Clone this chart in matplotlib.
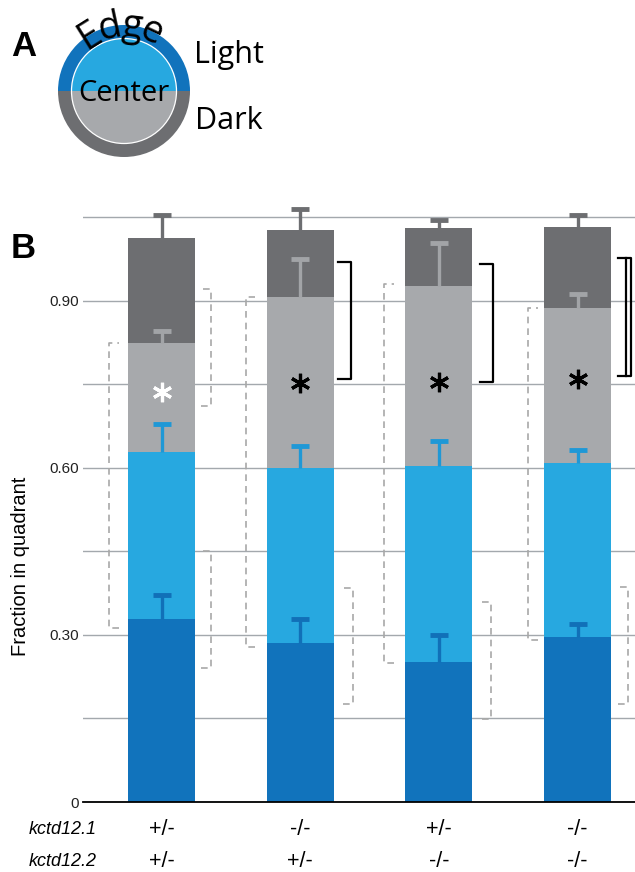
import numpy as np
import matplotlib
matplotlib.use('Agg')
import matplotlib.pyplot as plt
from matplotlib.patches import Wedge, Circle
import matplotlib.transforms as mtransforms

# ---------------- data ----------------
genotype_1 = ['+/-', '-/-', '+/-', '-/-']
genotype_2 = ['+/-', '+/-', '-/-', '-/-']
gene_names = ['kctd12.1', 'kctd12.2']

# stacked segments (bottom -> top)
edge_light   = [0.329, 0.286, 0.251, 0.296]
center_light = [0.300, 0.314, 0.353, 0.313]
center_dark  = [0.195, 0.307, 0.323, 0.278]
edge_dark    = [0.189, 0.120, 0.104, 0.146]

# upper error (SEM) for each segment
err_edge_light   = [0.043, 0.043, 0.049, 0.024]
err_center_light = [0.050, 0.040, 0.044, 0.023]
err_center_dark  = [0.022, 0.068, 0.077, 0.025]
err_edge_dark    = [0.041, 0.038, 0.014, 0.021]

# significance asterisks
star_y = [0.737, 0.753, 0.754, 0.760]
star_color = ['white', 'black', 'black', 'black']

# dashed comparison brackets
center_br_lo = [0.313, 0.279, 0.250, 0.291]
center_br_hi = [0.824, 0.907, 0.930, 0.887]
edge_br_lo = [0.241, 0.176, 0.149, 0.176]
edge_br_hi = [0.451, 0.384, 0.359, 0.386]
extra_br = (0.711, 0.921)          # bar 1, right upper dashed bracket
# solid brackets for bars 2-4
solid_br_lo = [0.760, 0.754, 0.765]
solid_br_hi = [0.970, 0.966, 0.977]

yticks = [0, 0.30, 0.60, 0.90]
yticklabels = ['0', '0.30', '0.60', '0.90']
minor_ticks = [0.15, 0.45, 0.75, 1.05]

# ---------------- style ----------------
C_EL = '#1173bc'
C_CL = '#27a8e0'
C_CD = '#a7a9ac'
C_ED = '#6d6e71'
GRID = '#a3a8ad'
DASH = '#a8a8a8'

W, H = 635, 872
fig = plt.figure(figsize=(W / 100, H / 100), dpi=100)

# main axes placement in pixels
px_left, px_right, px_zero = 83, 635, 802
px_per_unit = 556.67
ytop = 1.08
ax = fig.add_axes([px_left / W, (H - px_zero) / H, (px_right - px_left) / W,
                   ytop * px_per_unit / H])
ax.set_xlim(-0.566, 3.414)
ax.set_ylim(0, ytop)

x = np.arange(4)
bw = 0.483
el = np.array(edge_light); cl = np.array(center_light)
cd = np.array(center_dark); ed = np.array(edge_dark)
b1 = el; b2 = el + cl; b3 = b2 + cd; b4 = b3 + ed
ax.bar(x, el, bw, color=C_EL, zorder=2)
ax.bar(x, cl, bw, bottom=b1, color=C_CL, zorder=2)
ax.bar(x, cd, bw, bottom=b2, color=C_CD, zorder=2)
ax.bar(x, ed, bw, bottom=b3, color=C_ED, zorder=2)

for tops, errs, col in [(b1, err_edge_light, '#1170b8'),
                        (b2, err_center_light, '#1f98d6'),
                        (b3, err_center_dark, '#a2a4a7'),
                        (b4, err_edge_dark, '#6d6e71')]:
    caps = tops + np.array(errs)
    ax.vlines(x, tops, caps, colors=col, lw=2.4, zorder=4)
    ax.plot(x, caps, ls='none', marker='_', markersize=13, markeredgewidth=3.5,
            color=col, zorder=4, clip_on=False)

for xi, yy, cc in zip(x, star_y, star_color):
    ax.plot(xi, yy, marker=(6, 2, 0), markersize=14, markeredgewidth=2.3,
            color=cc, markeredgecolor=cc, zorder=5)

def bracket(xv, lo, hi, tick, **kw):
    ax.plot([xv + tick, xv, xv, xv + tick], [lo, lo, hi, hi], clip_on=False,
            zorder=3, **kw)

dkw = dict(color=DASH, lw=1.2, dashes=(4, 3))
left_off = [-0.378, -0.393, -0.393, -0.357]
right_off = [0.357, 0.378, 0.378, 0.364]
for i in range(4):
    bracket(x[i] + left_off[i], center_br_lo[i], center_br_hi[i], 0.07, **dkw)
    bracket(x[i] + right_off[i], edge_br_lo[i], edge_br_hi[i], -0.07, **dkw)
bracket(x[0] + 0.357, extra_br[0], extra_br[1], -0.07, **dkw)

skw = dict(color='black', lw=1.6)
solid_off = [0.364, 0.393, 0.385]
for j, i in enumerate([1, 2, 3]):
    bracket(x[i] + solid_off[j], solid_br_lo[j], solid_br_hi[j], -0.095, **skw)
ax.plot([x[3] + 0.35, x[3] + 0.35], [solid_br_lo[2], solid_br_hi[2]],
        color='black', lw=1.6, zorder=3)

# axes styling
for s in ['top', 'right', 'left']:
    ax.spines[s].set_visible(False)
ax.spines['bottom'].set_color('black')
ax.spines['bottom'].set_linewidth(1.3)
ax.spines['bottom'].set_zorder(6)
ax.set_xticks([])
ax.set_yticks(yticks)
ax.set_yticklabels(yticklabels, fontsize=11, family='Liberation Sans', color='#222222')
ax.set_yticks(minor_ticks, minor=True)
ax.tick_params(axis='y', which='both', length=0, pad=3)
ax.grid(axis='y', which='both', color=GRID, lw=1.0, zorder=0)
ax.set_axisbelow(True)

# overlay axes in pixel coordinates for annotations / panel A
axA = fig.add_axes([0, 0, 1, 1], facecolor='none')
axA.set_xlim(0, W)
axA.set_ylim(H, 0)
axA.axis('off')

cx, cy, R, r = 124, 91, 66, 52.5
axA.add_patch(Wedge((cx, cy), R, 180, 360, color=C_EL, lw=0))
axA.add_patch(Wedge((cx, cy), R, 0, 180, color=C_ED, lw=0))
axA.add_patch(Wedge((cx, cy), r, 180, 360, color=C_CL, lw=0))
axA.add_patch(Wedge((cx, cy), r, 0, 180, color=C_CD, lw=0))
axA.add_patch(Circle((cx, cy), r, fill=False, ec='white', lw=0.9))

fA = 'Open Sans'
Rb = 55
for ch, ang in zip('Edge', [32, 12, -7, -25]):
    t = np.deg2rad(ang)
    axA.text(cx - Rb * np.sin(t), cy - Rb * np.cos(t), ch, fontsize=27,
             family=fA, ha='center', va='baseline', rotation=ang,
             rotation_mode='anchor', color='black')
axA.text(cx, 101, 'Center', fontsize=21, family=fA, ha='center', va='baseline')
axA.text(194, 63, 'Light', fontsize=22, family=fA, ha='left', va='baseline')
axA.text(195, 129, 'Dark', fontsize=22, family=fA, ha='left', va='baseline')

axA.text(11, 56, 'A', fontsize=25, fontweight='bold', family='Liberation Sans',
         va='baseline', ha='left')
axA.text(11, 258, 'B', fontsize=25, fontweight='bold', family='Liberation Sans',
         va='baseline', ha='left')

axA.text(21, 566, 'Fraction in quadrant', rotation=90, fontsize=14.5,
         family='Liberation Sans', ha='center', va='center')

blend = mtransforms.blended_transform_factory(ax.transData, axA.transData)
for xi, g1, g2 in zip(x, genotype_1, genotype_2):
    ax.text(xi, 829, g1, transform=blend, ha='center', va='center', fontsize=15.5,
            family='Liberation Sans', clip_on=False)
    ax.text(xi, 861, g2, transform=blend, ha='center', va='center', fontsize=15.5,
            family='Liberation Sans', clip_on=False)
axA.text(29, 829, gene_names[0], style='italic', fontsize=13, family='Liberation Sans',
         ha='left', va='center')
axA.text(29, 861, gene_names[1], style='italic', fontsize=13, family='Liberation Sans',
         ha='left', va='center')

fig.savefig('out.png', dpi=100)
